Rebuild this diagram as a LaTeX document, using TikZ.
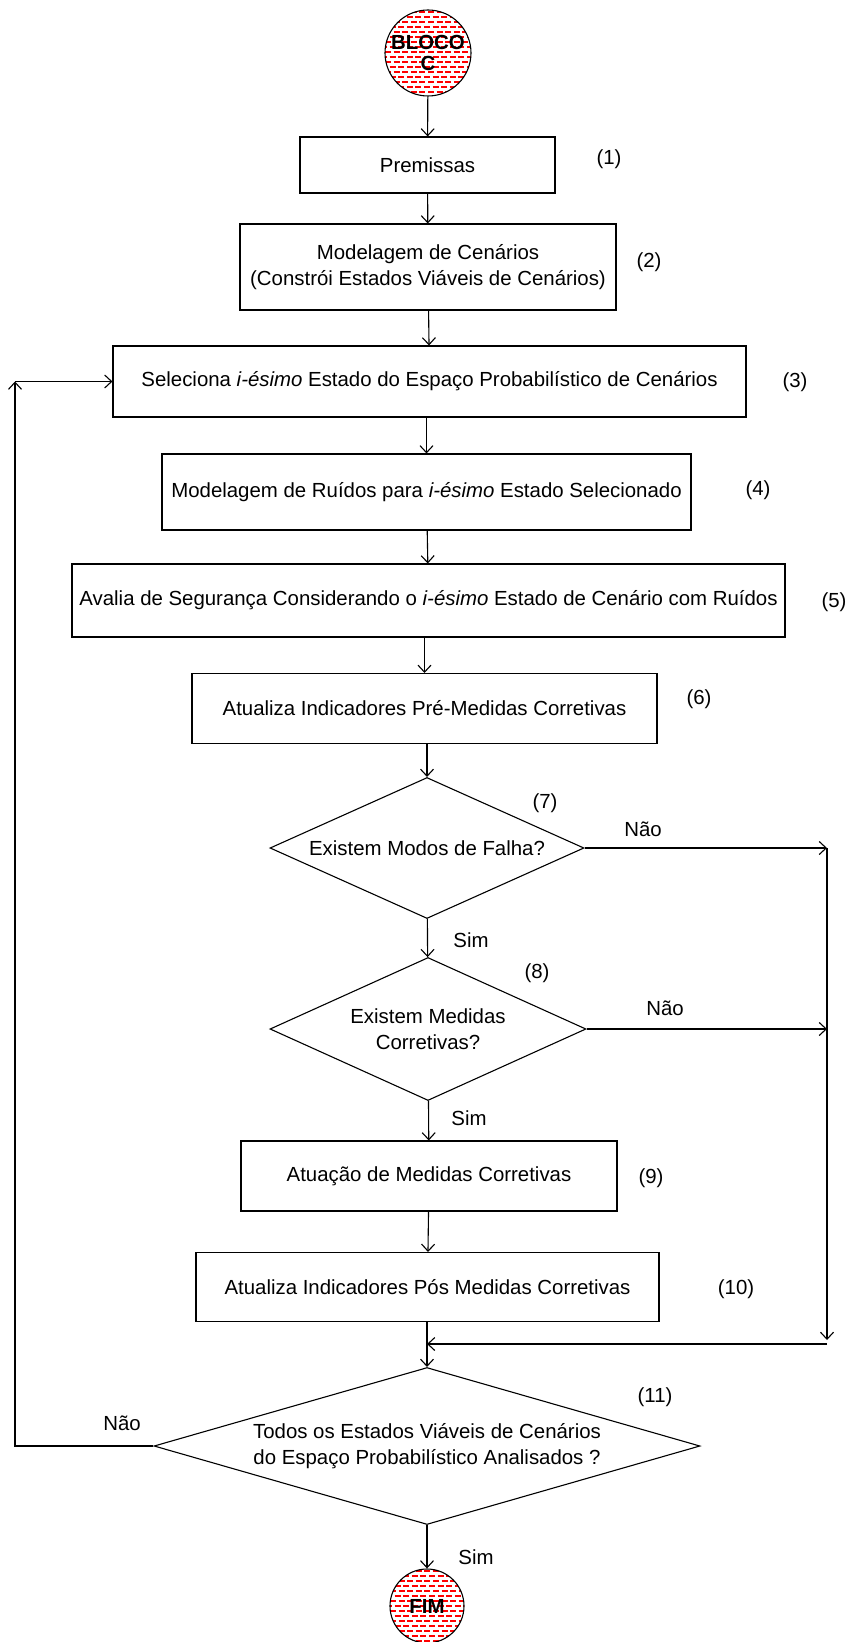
\documentclass[tikz,border=0pt]{standalone}
\usepackage{fontspec}
\setmainfont{Liberation Sans}
\usetikzlibrary{arrows.meta,shapes.geometric}

\tikzset{every picture/.style={line width=0.55pt}}
\tikzset{
  passo/.style={draw, rectangle, inner sep=0pt, align=center},
  decisao/.style={draw, diamond, inner sep=0pt, align=center},
  conector/.style={circle, inner sep=0pt, align=center, font=\bfseries},
  seta/.style={-{Straight Barb[length=3.5pt,width=6.5pt]}},
  rotulo/.style={inner sep=0pt}
}

% hachura vermelha dos conectores
\newcommand{\hachura}[3]{%
  \begin{scope}
    \clip (#1,#2) circle (#3);
    \fill[white] (#1,#2) circle (#3);
    \foreach \k in {0,...,20}{
      \pgfmathsetmacro{\yy}{#2-#3+2+5*\k}
      \pgfmathsetmacro{\dx}{mod(\k,2)*4}
      \draw[red, line width=1.1pt, dash pattern=on 3pt off 1.3pt] (#1-#3-\dx,\yy) -- (#1+#3,\yy);
    }
  \end{scope}
  \draw (#1,#2) circle (#3);
}

\begin{document}
\begin{tikzpicture}[x=0.5pt,y=0.5pt,yscale=-1,xscale=1]
\useasboundingbox (0,0) rectangle (853,1642);
\fontsize{10.2}{12.8}\selectfont

%Conector de entrada
\hachura{428}{53}{43}
\node[conector, minimum size=43pt] (bloco) at (428,53) {BLOCO\\[-2pt]C};

%Passos
\node[passo, minimum width=127.5pt, minimum height=28pt] (b1) at (427.5,165) {Premissas};
\node[passo, minimum width=188pt, minimum height=43pt] (b2) at (428,267) {Modelagem de Cenários\\(Constrói Estados Viáveis de Cenários)};
\node[passo, minimum width=316.5pt, minimum height=35.5pt] (b3) at (429.5,381.5) {Seleciona \textit{i-ésimo} Estado do Espaço Probabilístico de Cenários};
\node[passo, minimum width=264.5pt, minimum height=38pt] (b4) at (426.5,492) {Modelagem de Ruídos para \textit{i-ésimo} Estado Selecionado};
\node[passo, minimum width=356.5pt, minimum height=36.5pt] (b5) at (428.5,600.5) {Avalia de Segurança Considerando o \textit{i-ésimo} Estado de Cenário com Ruídos};
\node[passo, minimum width=232.5pt, minimum height=35pt] (b6) at (424.5,708.5) {Atualiza Indicadores Pré-Medidas Corretivas};

%Decisoes
\node[decisao, minimum width=157pt, minimum height=70.5pt, aspect=2.23] (d7) at (427,848) {Existem Modos de Falha?};
\node[decisao, minimum width=158pt, minimum height=71.5pt, aspect=2.21] (d8) at (428,1029) {Existem Medidas\\Corretivas?};

\node[passo, minimum width=188pt, minimum height=35pt] (b9) at (429,1176) {Atuação de Medidas Corretivas};
\node[passo, minimum width=231.5pt, minimum height=34.5pt] (b10) at (427.5,1287) {Atualiza Indicadores Pós Medidas Corretivas};

\node[decisao, minimum width=273pt, minimum height=78.5pt, aspect=3.48] (d11) at (427,1446) {Todos os Estados Viáveis de Cenários\\do Espaço Probabilístico Analisados ?};

%Conector de saida
\hachura{427}{1606}{37}
\node[conector, minimum size=37pt] (fim) at (427,1606) {FIM};

%Pontos auxiliares
\coordinate (dir7) at (827,848);
\coordinate (dirfim) at (827,1340);
\coordinate (dirjun) at (827,1344);
\coordinate (jun) at (427,1344);
\coordinate (esq11) at (15,1446);
\coordinate (esq3) at (15,381.5);

%Fluxo principal
\draw[seta] (bloco) -- (b1);
\draw[seta] (b1) -- (b2);
\draw[seta] (b2) -- (b3);
\draw[seta] (b3.south -| b4.north) -- (b4);
\draw[seta] (b4) -- (b5);
\draw[seta] (b5.south -| b6.north) -- (b6);
\draw[seta] (b6.south -| d7.north) -- (d7);
\draw[seta] (d7) -- (d8);
\draw[seta] (d8) -- (b9);
\draw[seta] (b9) -- (b10);
\draw[seta] (b10.south -| d11.north) -- (d11);
\draw[seta] (d11) -- (fim);

%Ramos Nao
\draw[seta] (d7.east) -- (dir7);
\draw[seta] (d8.east) -- (d8.east -| dir7);
\draw[seta] (dir7) -- (dirfim);
\draw[seta] (dirjun) -- (jun);
\draw[seta] (d11.west) -- (esq11) -- (esq3);
\draw[seta] (esq3) -- (b3.west);

%Rotulos
\node[rotulo] (n1) at (609,159) {(1)};
\node[rotulo] (n2) at (649,262) {(2)};
\node[rotulo] (n3) at (795,382) {(3)};
\node[rotulo] (n4) at (758,490) {(4)};
\node[rotulo] (n5) at (834,602) {(5)};
\node[rotulo] (n6) at (699,699) {(6)};
\node[rotulo] (n7) at (545,803) {(7)};
\node[rotulo] (n8) at (537,973) {(8)};
\node[rotulo] (n9) at (651,1178) {(9)};
\node[rotulo] (n10) at (736,1289) {(10)};
\node[rotulo] (n11) at (655,1397) {(11)};
\node[rotulo] (nao7) at (643,829) {Não};
\node[rotulo] (nao8) at (665,1008) {Não};
\node[rotulo] (nao11) at (122,1423) {Não};
\node[rotulo] (sim7) at (471,940) {Sim};
\node[rotulo] (sim8) at (469,1118) {Sim};
\node[rotulo] (sim11) at (476,1557) {Sim};

\end{tikzpicture}
\end{document}
